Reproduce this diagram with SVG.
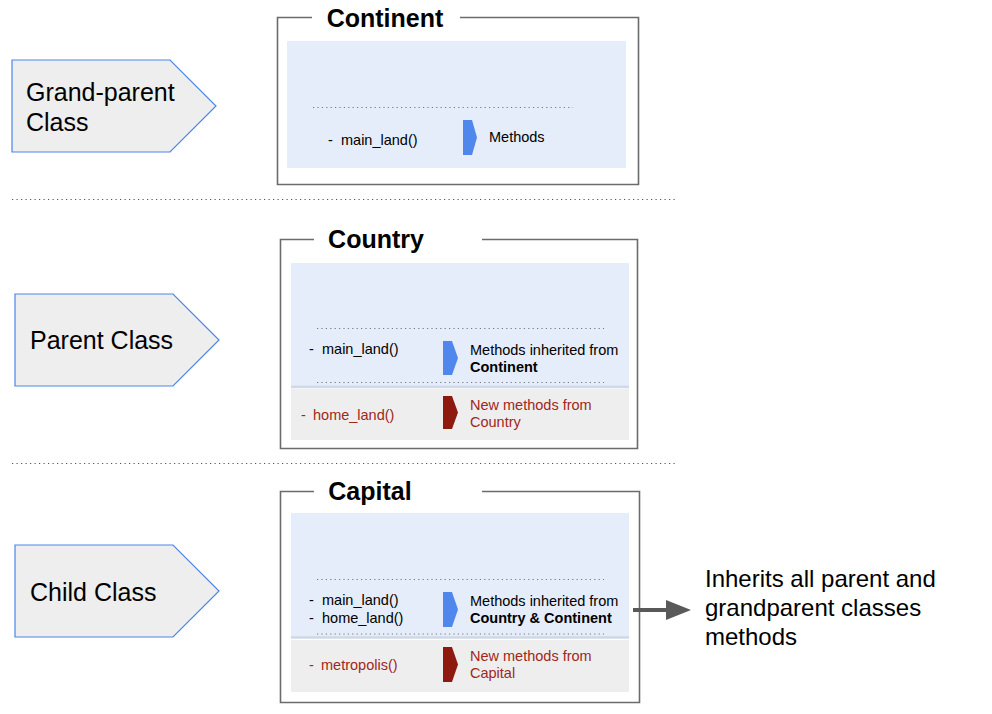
<svg xmlns="http://www.w3.org/2000/svg" width="992" height="714" viewBox="0 0 992 714">
<defs>
<style>
.lbl{fill:#eeeeee;stroke:#4a86e8;stroke-width:1.2}
.lt{font-family:"Liberation Sans",Arial,sans-serif;font-size:25px;fill:#000}
.frame{fill:none;stroke:#6b6b6b;stroke-width:1.6}
.title{font-family:"Liberation Sans",Arial,sans-serif;font-size:25px;font-weight:bold;fill:#000;text-anchor:middle}
.blue{fill:#e5ecfa}
.gray{fill:#eeeeee}
.band{stroke:#cfd8e6;stroke-width:2.5}
.dot{stroke:#777;stroke-width:1.2;stroke-dasharray:1.2 3.2}
.sep{stroke:#555;stroke-width:1.2;stroke-dasharray:1.2 3.3}
.t{font-family:"Liberation Sans",Arial,sans-serif;font-size:14.5px;fill:#000}
.r{fill:#a0281a}
.b{font-weight:bold}
.cb{fill:#4f87ec}
.cr{fill:#8e1a0f}
.big{font-family:"Liberation Sans",Arial,sans-serif;font-size:24px;fill:#000}
</style>
</defs>

<g id="separators">
<line class="sep" x1="12" y1="199.5" x2="676" y2="199.5"/>
<line class="sep" x1="12" y1="463.5" x2="676" y2="463.5"/>
</g>

<g id="label-grandparent">
<polygon class="lbl" points="12,60 170,60 216,106 170,152 12,152"/>
<text class="lt" x="26" y="101">Grand-parent</text>
<text class="lt" x="26" y="131">Class</text>
</g>
<g id="label-parent">
<polygon class="lbl" points="15,294 173,294 219,340 173,386 15,386"/>
<text class="lt" x="30" y="349">Parent Class</text>
</g>
<g id="label-child">
<polygon class="lbl" points="15,545 173,545 219,591 173,637 15,637"/>
<text class="lt" x="30" y="601">Child Class</text>
</g>

<g id="continent">
<path class="frame" d="M312,17.5 H277.5 V184.5 H638.5 V17.5 H460"/>
<text class="title" x="385" y="27">Continent</text>
<rect class="blue" x="287" y="41" width="339" height="127"/>
<line class="dot" x1="313" y1="107.5" x2="573" y2="107.5"/>
<text class="t" x="328" y="145">-</text>
<text class="t" x="341" y="145">main_land()</text>
<polygon class="cb" points="463,120 472,120 477,137.5 472,155 463,155"/>
<text class="t" x="489" y="142">Methods</text>
</g>

<g id="country">
<path class="frame" d="M314,239.5 H280.5 V448.5 H637.5 V239.5 H482"/>
<text class="title" x="376" y="248">Country</text>
<rect class="blue" x="291" y="263" width="338" height="125"/>
<rect class="gray" x="291" y="389" width="338" height="51"/>
<line class="band" x1="291" y1="387" x2="629" y2="387"/>
<line class="dot" x1="317" y1="328.5" x2="604" y2="328.5"/>
<line class="dot" x1="317" y1="382.5" x2="604" y2="382.5"/>
<text class="t" x="309" y="354">-</text>
<text class="t" x="322" y="354">main_land()</text>
<polygon class="cb" points="443,341 452,341 458,358 452,375 443,375"/>
<text class="t" x="470" y="355">Methods inherited from</text>
<text class="t b" x="470" y="372">Continent</text>
<text class="t r" x="301" y="420">-</text>
<text class="t r" x="313" y="420">home_land()</text>
<polygon class="cr" points="443,396 452,396 458,412.5 452,429 443,429"/>
<text class="t r" x="470" y="410">New methods from</text>
<text class="t r" x="470" y="427">Country</text>
</g>

<g id="capital">
<path class="frame" d="M314,491.5 H280.5 V702.5 H639.5 V491.5 H482"/>
<text class="title" x="370" y="500">Capital</text>
<rect class="blue" x="291" y="513" width="338" height="125"/>
<rect class="gray" x="291" y="640" width="338" height="52"/>
<line class="band" x1="291" y1="637.5" x2="629" y2="637.5"/>
<line class="dot" x1="317" y1="579.5" x2="604" y2="579.5"/>
<line class="dot" x1="317" y1="634" x2="604" y2="634"/>
<text class="t" x="309" y="605">-</text>
<text class="t" x="322" y="605">main_land()</text>
<text class="t" x="309" y="623">-</text>
<text class="t" x="322" y="623">home_land()</text>
<polygon class="cb" points="443,592 452,592 458,609.5 452,627 443,627"/>
<text class="t" x="470" y="606">Methods inherited from</text>
<text class="t b" x="470" y="623">Country &amp; Continent</text>
<text class="t r" x="309" y="670">-</text>
<text class="t r" x="321" y="670">metropolis()</text>
<polygon class="cr" points="443,647 452,647 458,664.5 452,682 443,682"/>
<text class="t r" x="470" y="661">New methods from</text>
<text class="t r" x="470" y="678">Capital</text>
</g>

<g id="connectors">
<line x1="633" y1="610" x2="668" y2="610" stroke="#595959" stroke-width="4"/>
<polygon points="666,600 691,610 666,620" fill="#595959"/>
</g>

<g id="note">
<text class="big" x="705" y="587">Inherits all parent and</text>
<text class="big" x="705" y="616">grandparent classes</text>
<text class="big" x="705" y="645">methods</text>
</g>
</svg>
